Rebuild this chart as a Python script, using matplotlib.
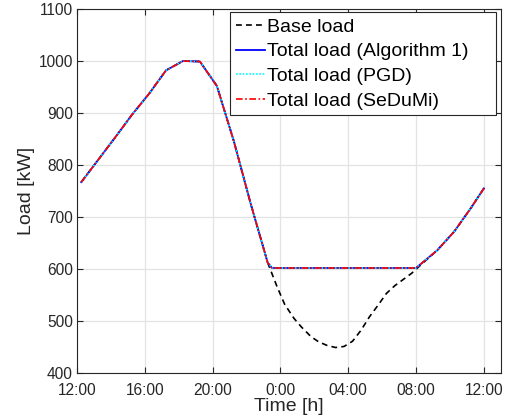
import matplotlib
matplotlib.use("Agg")
import matplotlib.pyplot as plt

# hours since 12:00 (15-min slots, first slot at 12:15)
base_hours = [0.25, 1.25, 2.25, 3.25, 4.25, 5.25, 6.25, 7.25, 8.25, 9.25, 10.25,
              11.25, 11.8, 12.25, 12.8, 13.25, 13.8, 14.25, 14.75, 15.25, 15.75,
              16.25, 16.75, 17.25, 17.75, 18.25, 18.75, 19.25, 19.75, 20.25,
              21.25, 22.25, 23.25, 24.0]
base_load = [767, 810, 853, 897, 937, 982, 1000, 999, 952, 846, 725,
             612, 566, 532, 505, 488, 470, 460, 453, 449, 451,
             461, 482, 508, 530, 553, 568, 580, 592, 607,
             636, 672, 718, 755]

total_hours = [0.25, 1.25, 2.25, 3.25, 4.25, 5.25, 6.25, 7.25, 8.25, 9.25, 10.25,
               11.25, 11.5, 14.0, 17.0, 20.0, 21.25, 22.25, 23.25, 24.0]
total_load = [767, 810, 853, 897, 937, 982, 1000, 999, 952, 846, 725,
              612, 602, 602, 602, 602, 636, 672, 718, 755]

tick_hours = [0, 4, 8, 12, 16, 20, 24]
tick_labels = ["12:00", "16:00", "20:00", "0:00", "04:00", "08:00", "12:00"]
y_ticks = [400, 500, 600, 700, 800, 900, 1000, 1100]

plt.rcParams["font.family"] = ["Liberation Sans", "DejaVu Sans"]

fig = plt.figure(figsize=(5.10, 4.19), dpi=100)
ax = fig.add_axes([0.151, 0.1098, 0.831, 0.8687])

ax.plot(base_hours, base_load, color="black", linestyle=(0, (3.5, 2.5)), linewidth=1.2,
        label="Base load")
# trailing spaces mimic the wide right margin of the MATLAB legend box
ax.plot(total_hours, total_load, color="#0000ff", linestyle="-", linewidth=1.3,
        label="Total load (Algorithm 1)    ")
ax.plot(total_hours, total_load, color="#00ffff", linestyle=(0, (1, 1)), linewidth=1.2,
        label="Total load (PGD)")
ax.plot(total_hours, total_load, color="#ff0000", linestyle=(0, (4, 1.5, 1, 1.5)), linewidth=1.2,
        label="Total load (SeDuMi)")

ax.set_xlim(0, 25)
ax.set_ylim(400, 1100)
ax.set_xticks(tick_hours)
ax.set_xticklabels(tick_labels)
ax.set_yticks(y_ticks)
ax.grid(True, color="#e3e3e3", linewidth=0.9)
ax.set_axisbelow(True)
ax.tick_params(direction="in", length=4, width=0.8, top=True, right=True,
               labelsize=11.2, colors="#262626")
ax.tick_params(axis="x", pad=7)
ax.tick_params(axis="y", pad=3)
for s in ax.spines.values():
    s.set_color("#262626")
    s.set_linewidth(0.8)

ax.set_xlabel("Time [h]", fontsize=14, color="#262626", labelpad=0.5)
ax.set_ylabel("Load [kW]", fontsize=14, color="#262626", labelpad=2.5)

leg = ax.legend(loc="upper right", bbox_to_anchor=(0.989, 0.991), borderaxespad=0,
                fontsize=14, fancybox=False, edgecolor="#262626", framealpha=1,
                handlelength=1.5, handletextpad=0.1, labelspacing=0.36,
                borderpad=0.3)
leg.get_frame().set_linewidth(0.8)

fig.savefig("out.png", dpi=100)
